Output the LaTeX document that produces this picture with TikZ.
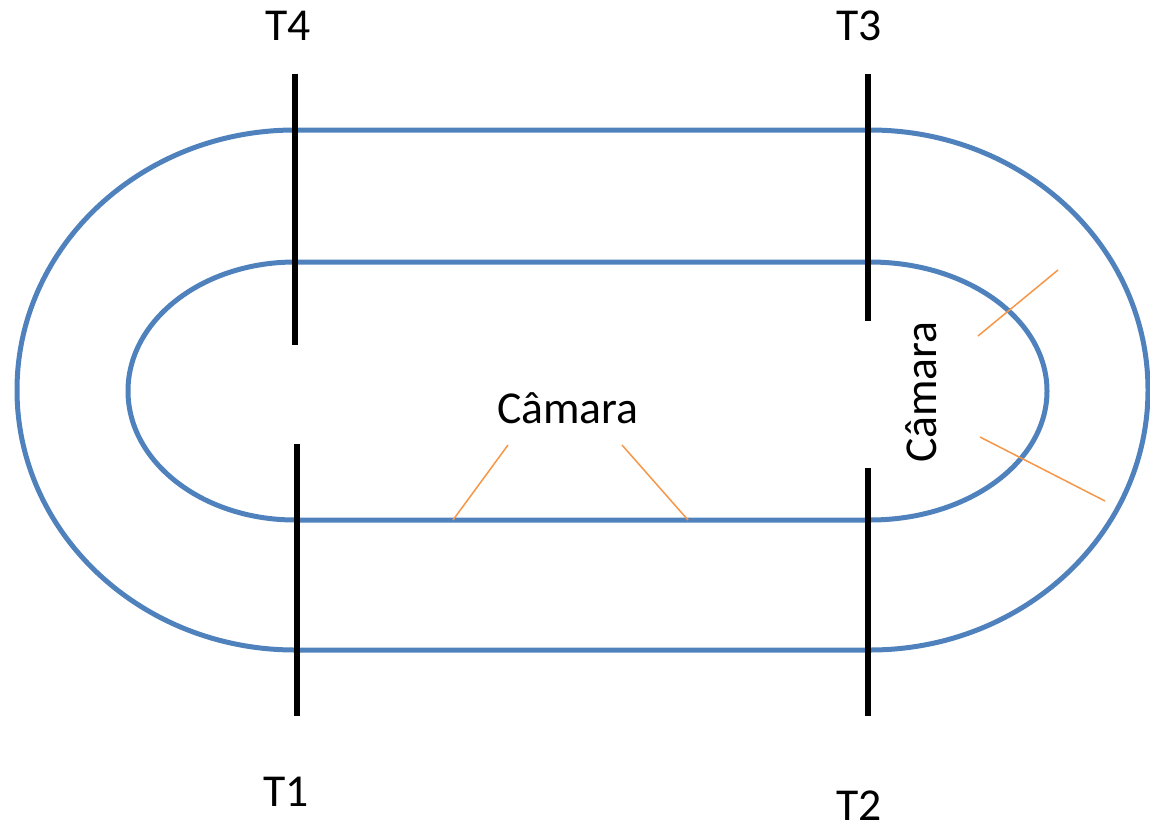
\documentclass[tikz,border=0pt]{standalone}
\usepackage{fontspec}
\setmainfont{Carlito}
\usepackage{xcolor}
\definecolor{trackblue}{HTML}{4F81BD}
\definecolor{camorg}{HTML}{F79646}
\usepackage{tikz}
\usetikzlibrary{positioning,calc}
\tikzset{
  trackline/.style={draw=trackblue, line width=0.1cm},
  gateline/.style={draw=black, line width=0.12cm},
  camline/.style={draw=camorg, line width=0.03cm},
  gatelbl/.style={inner sep=0pt, font=\fontsize{26}{30}\selectfont},
  camlbl/.style={inner sep=0pt, font=\fontsize{26}{30}\selectfont},
}

\begin{document}
\begin{tikzpicture}[x=0.02cm, y=0.02cm]
  \useasboundingbox (0,0) rectangle (1150,-829);
  % pista
  \draw[trackline] (295,-130) -- (870,-130)
    arc[start angle=90, end angle=-90, x radius=278, y radius=260]
    -- (295,-650)
    arc[start angle=270, end angle=90, x radius=278, y radius=260] -- cycle;
  \draw[trackline] (295,-262) -- (870,-262)
    arc[start angle=90, end angle=-90, x radius=177, y radius=129]
    -- (295,-520)
    arc[start angle=270, end angle=90, x radius=167, y radius=129] -- cycle;
  % linhas T
  \draw[gateline] (295,-74) -- (295,-345);
  \draw[gateline] (868,-74) -- (868,-321);
  \draw[gateline] (297,-444) -- (297,-716);
  \draw[gateline] (868,-468) -- (868,-716);
  \node[gatelbl] (t4) at (288,-26)  {T4};
  \node[gatelbl] (t3) at (859,-26)  {T3};
  \node[gatelbl] (t1) at (286,-792) {T1};
  \node[gatelbl] (t2) at (859,-806) {T2};
  % cameras
  \node[camlbl] (cam1) at (568,-408) {Câmara};
  \node[camlbl, rotate=90] (cam2) at (921,-392) {Câmara};
  \coordinate (c1a) at (508,-445);
  \coordinate (c1b) at (453,-520);
  \coordinate (c2a) at (622,-445);
  \coordinate (c2b) at (688,-520);
  \coordinate (c3a) at (978,-336);
  \coordinate (c3b) at (1058,-270);
  \coordinate (c4a) at (980,-437);
  \coordinate (c4b) at (1105,-501);
  \draw[camline] (c1a) -- (c1b);
  \draw[camline] (c2a) -- (c2b);
  \draw[camline] (c3a) -- (c3b);
  \draw[camline] (c4a) -- (c4b);
\end{tikzpicture}
\end{document}
